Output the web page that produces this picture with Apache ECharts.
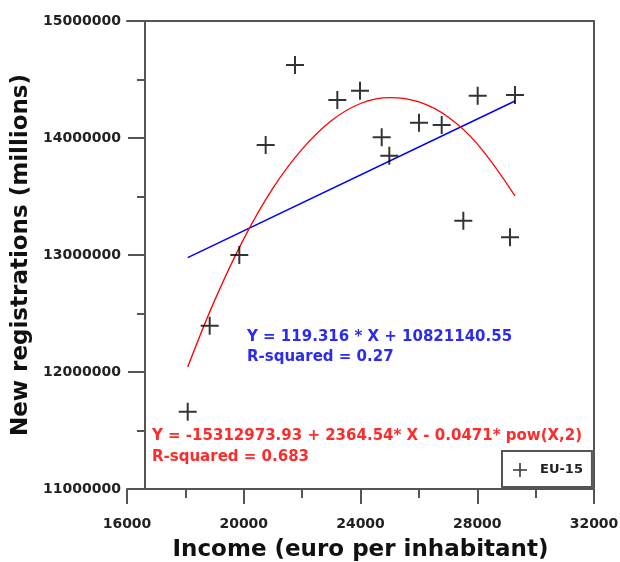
<!DOCTYPE html>
<html>
<head>
<meta charset="utf-8">
<script src="https://cdn.jsdelivr.net/npm/echarts@6/dist/echarts.min.js"></script>
<style>
html,body{margin:0;padding:0;background:#fff;}
#chart{width:620px;height:562px;}
</style>
</head>
<body>
<div id="chart"></div>
<script>
// ---- data ----
const seriesName = 'EU-15';
const incomeEU15 = [18080, 18833, 19848, 20751, 21756, 23206, 23983, 24726, 24987, 26004, 26782, 27523, 28015, 29122, 29293];
const registrationsEU15 = [11660000, 12396000, 13000000, 13940000, 14624000, 14325000, 14404000, 14006000, 13849000, 14131000, 14111000, 13293000, 14362000, 13151000, 14368000];

const linearFitX = [18080, 29293];
const linearFitY = [12978000, 14316000];

const quadFitX = [18080, 19000, 20000, 21000, 22000, 23000, 24000, 25000, 26000, 27000, 28000, 29293];
const quadFitY = [12042000, 12610000, 13138000, 13571000, 13905000, 14148000, 14295000, 14345000, 14308000, 14180000, 13950000, 13505000];

const xTicks = [16000, 20000, 24000, 28000, 32000];
const yTicks = [11000000, 12000000, 13000000, 14000000, 15000000];

const xTitle = 'Income (euro per inhabitant)';
const yTitle = 'New registrations (millions)';
const linearText = ['Y = 119.316 * X + 10821140.55', 'R-squared = 0.27'];
const quadText = ['Y = -15312973.93 + 2364.54* X - 0.0471* pow(X,2)', 'R-squared = 0.683'];

// ---- chart ----
const FONT = 'DejaVu Sans';
const axisColor = '#555555';
const plusPath = 'path://M4.45,0H5.55V4.45H10V5.55H5.55V10H4.45V5.55H0V4.45H4.45Z';

const zip = (a, b) => a.map((v, i) => [v, b[i]]);

const chart = echarts.init(document.getElementById('chart'), null, {renderer: 'canvas'});

const tickLabel = {
  fontFamily: FONT, fontWeight: 'bold', fontSize: 14, color: '#222'
};

chart.setOption({
  animation: false,
  backgroundColor: '#fff',
  grid: {left: 127, right: 26, top: 21, bottom: 73, containLabel: false, outerBoundsMode: 'none'},
  xAxis: [{
    type: 'value',
    position: 'bottom',
    min: xTicks[0], max: xTicks[xTicks.length - 1], interval: 4000,
    axisLine: {show: true, lineStyle: {color: axisColor, width: 2}},
    axisTick: {show: true, length: 15, lineStyle: {color: axisColor, width: 2}},
    minorTick: {show: true, splitNumber: 2, length: 9, lineStyle: {color: axisColor, width: 2}},
    splitLine: {show: false},
    axisLabel: Object.assign({margin: 28, formatter: v => String(v)}, tickLabel),
    name: xTitle,
    nameLocation: 'middle',
    nameGap: 50,
    nameTextStyle: {fontFamily: FONT, fontWeight: 'bold', fontSize: 23, color: '#111'}
  }, {
    type: 'value',
    position: 'top',
    min: xTicks[0], max: xTicks[xTicks.length - 1],
    axisLine: {show: true, lineStyle: {color: axisColor, width: 2}},
    axisTick: {show: false}, axisLabel: {show: false}, splitLine: {show: false}
  }],
  yAxis: [{
    type: 'value',
    position: 'left',
    offset: -18,
    min: yTicks[0], max: yTicks[yTicks.length - 1], interval: 1000000,
    axisLine: {show: true, lineStyle: {color: axisColor, width: 2}},
    axisTick: {show: true, length: 17, lineStyle: {color: axisColor, width: 2}},
    minorTick: {show: true, splitNumber: 2, length: 8, lineStyle: {color: axisColor, width: 2}},
    splitLine: {show: false},
    axisLabel: Object.assign({margin: 24, formatter: v => String(v)}, tickLabel),
    name: yTitle,
    nameLocation: 'middle',
    nameGap: 106,
    nameTextStyle: {fontFamily: FONT, fontWeight: 'bold', fontSize: 23, color: '#111'}
  }, {
    type: 'value',
    position: 'right',
    min: yTicks[0], max: yTicks[yTicks.length - 1],
    axisLine: {show: true, lineStyle: {color: axisColor, width: 2}},
    axisTick: {show: false}, axisLabel: {show: false}, splitLine: {show: false}
  }],
  legend: {
    data: [{name: seriesName, icon: plusPath, itemStyle: {color: '#000'}}],
    left: 502, top: 451,
    orient: 'vertical',
    itemWidth: 30, itemHeight: 14,
    itemGap: 0,
    padding: [12, 9, 10, 11],
    borderColor: axisColor, borderWidth: 2,
    backgroundColor: '#fff',
    textStyle: {fontFamily: FONT, fontWeight: 'bold', fontSize: 13, color: '#222'}
  },
  series: [{
    name: 'linear',
    type: 'line',
    data: zip(linearFitX, linearFitY),
    showSymbol: false,
    lineStyle: {color: '#0000ff', width: 1.5},
    silent: true, z: 2
  }, {
    name: 'quadratic',
    type: 'line',
    data: zip(quadFitX, quadFitY),
    smooth: 0.4,
    showSymbol: false,
    lineStyle: {color: '#ff0000', width: 1.3},
    silent: true, z: 2
  }, {
    name: seriesName,
    type: 'scatter',
    data: zip(incomeEU15, registrationsEU15),
    symbol: plusPath,
    symbolSize: 18,
    itemStyle: {color: '#000'},
    z: 3
  }],
  graphic: [
    {type: 'text', x: 247, y: 337, style: {text: linearText[0], fill: '#2b2bf2', font: 'bold 15px "DejaVu Sans"', verticalAlign: 'middle'}},
    {type: 'text', x: 247, y: 357, style: {text: linearText[1], fill: '#2b2bf2', font: 'bold 15px "DejaVu Sans"', verticalAlign: 'middle'}},
    {type: 'text', x: 152, y: 436, style: {text: quadText[0], fill: '#ff2a2a', font: 'bold 15px "DejaVu Sans"', verticalAlign: 'middle'}},
    {type: 'text', x: 152, y: 457, style: {text: quadText[1], fill: '#ff2a2a', font: 'bold 15px "DejaVu Sans"', verticalAlign: 'middle'}}
  ]
});
</script>
</body>
</html>
